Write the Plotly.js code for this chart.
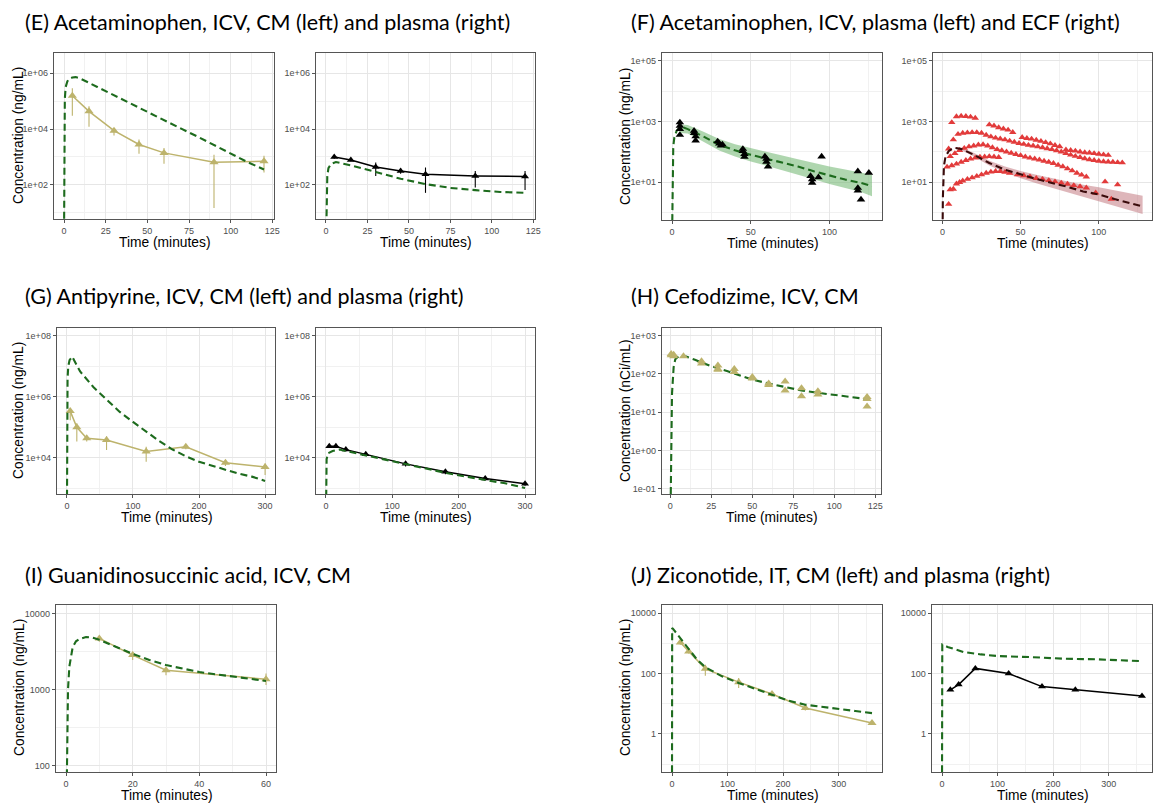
<!DOCTYPE html>
<html><head><meta charset="utf-8">
<script src="https://cdn.plot.ly/plotly-3.0.1.min.js"></script>
<style>html,body{margin:0;padding:0;background:#fff}#chart{width:1175px;height:803px}</style>
</head><body><div id="chart"></div>
<script>
// ---------- (E) Acetaminophen, ICV ----------
const tE = [5, 15, 30, 45, 60, 90, 120];
const cmE = [155000, 43000, 8700, 2800, 1400, 650, 700];
const cmEHi = [290000, 65000, 10500, 4200, 2100, 1200, 1100];
const cmELo = [30000, 12000, 5800, 1300, 575, 15, 280];
const modTE = [0, 0.2, 0.5, 1, 2, 3, 5, 7, 10, 20, 30, 40, 50, 60, 70, 80, 90, 100, 110, 120];
const modCmE = [1, 10000, 120000, 320000, 500000, 620000, 700000, 720000, 630000, 320000, 160000, 81000, 41000, 21000, 10500, 5400, 2700, 1350, 660, 355];
const plE = [1000, 780, 440, 315, 240, 210, 200];
const plEHi = [1150, 880, 630, 390, 420, 316, 316];
const plELo = [870, 700, 210, 250, 52, 80, 66];
const modTEp = [0, 0.3, 0.8, 1.5, 3, 6, 15, 30, 45, 60, 75, 90, 105, 120];
const modPlE = [0.5, 30, 200, 400, 560, 660, 500, 290, 166, 107, 78, 65, 56, 52];

// ---------- (F) Acetaminophen, ICV, plasma / ECF ----------
const tFp = [5, 5, 5, 5, 14, 14, 15, 15, 29, 30, 31, 32, 45, 45, 46, 46, 59, 60, 60, 61, 88, 89, 89, 93, 95, 118, 118, 118, 120, 125];
const plF = [930, 720, 560, 360, 490, 415, 325, 235, 220, 185, 160, 175, 125, 105, 85, 68, 70, 59, 47, 33, 16, 12.5, 9.6, 14.6, 70, 23, 6.5, 5.3, 2.7, 20.5];
const modTF = [0, 0.3, 0.8, 1.5, 3, 5, 7, 10, 20, 30, 40, 50, 60, 70, 80, 90, 100, 110, 120, 127];
const modPlF = [0.1, 30, 150, 300, 500, 620, 640, 560, 320, 170, 112, 80, 60, 45, 33, 23, 16.5, 12.3, 9.5, 7.4];
const bandTF = [5, 10, 20, 30, 40, 50, 60, 70, 80, 90, 100, 110, 120, 127];
const bandPlFHi = [794, 759, 457, 263, 178, 132, 100, 76, 57.5, 42.7, 33.1, 26.3, 21.4, 17.8];
const bandPlFLo = [417, 398, 214, 110, 71, 48, 35, 25, 18.2, 12.6, 8.7, 6.3, 4.8, 3.5];

const ecfT1 = [6, 9, 12, 15, 18, 21, 30, 33, 36, 39, 42, 45, 51, 54, 57, 60, 63, 66, 69, 72, 75, 79, 82, 85, 88, 91, 94, 97, 100, 103, 106];
const ecfV1 = [930, 1450, 1510, 1480, 1410, 1290, 780, 720, 630, 575, 525, 440, 300, 280, 265, 245, 225, 205, 185, 165, 150, 117, 112, 107, 100, 95, 93, 89, 85, 81, 78];
const ecfT2 = [4, 7, 10, 13, 16, 19, 22, 25, 28, 31, 34, 37, 40, 43, 46, 49, 52, 55, 58, 61, 64, 67, 70, 73, 76, 79, 82, 85, 88, 91, 94, 97, 100, 103, 106, 109, 112, 115];
const ecfV2 = [126, 251, 380, 417, 427, 437, 437, 417, 355, 316, 288, 269, 251, 229, 209, 191, 178, 166, 158, 148, 138, 129, 120, 110, 100, 89, 79, 72, 66, 60, 56, 52.5, 50, 48, 47, 46, 45, 44];
const ecfT3 = [5, 8, 11, 14, 17, 20, 23, 26, 29, 32, 35, 38, 41, 44, 47, 50, 53, 56, 59, 62, 65, 68, 71, 74, 77, 80, 83, 86, 89, 92];
const ecfV3 = [71, 89, 112, 132, 148, 158, 170, 174, 158, 138, 120, 110, 100, 91, 83, 76, 69, 63, 59, 55, 50, 46, 42, 37, 33, 28, 24, 20, 17.4, 15.1];
const ecfT4 = [3, 6, 9, 12, 15, 18, 21, 24, 27, 30, 33, 36];
const ecfV4 = [32, 35.5, 40, 46, 52.5, 59, 63, 68, 69, 71, 69, 66];
const ecfT5 = [4, 5, 7, 9, 11, 13, 16, 19, 22, 25, 28, 31, 34, 37, 40, 43, 48, 52, 56, 60, 64, 68, 72, 76, 80, 84, 88, 92, 98, 104, 108, 112];
const ecfV5 = [1.9, 5.75, 6, 8.9, 10, 11.2, 12.6, 14.1, 15.8, 17.8, 20, 21.9, 22.9, 22.9, 21.4, 20, 17.8, 16.6, 15.1, 13.5, 12.6, 11.5, 10.5, 9.5, 8.7, 7.9, 7.2, 6.6, 4.5, 10.5, 2.8, 8.3];
const modTEcf = [0, 0.3, 1, 2, 4, 6, 8, 12, 20, 30, 40, 50, 60, 70, 80, 90, 100, 110, 120, 128];
const modEcf = [0.05, 3, 35, 70, 105, 125, 135, 125, 81, 43, 26, 17.8, 12.9, 9.5, 7.1, 5.0, 4.0, 2.8, 2.1, 1.6];
const bandTEcf = [8, 12, 20, 30, 40, 50, 60, 70, 80, 90, 100, 110, 120, 128];
const bandEcfHi = [145, 138, 93, 51, 33, 23.4, 17.8, 13.8, 10.7, 8.3, 6.9, 5.4, 4.4, 3.6];
const bandEcfLo = [126, 115, 71, 35.5, 21.4, 13.5, 9.3, 6.6, 4.7, 3.2, 2.4, 1.66, 1.2, 0.91];

// ---------- (G) Antipyrine, ICV ----------
const tG = [5, 15, 30, 60, 120, 180, 240, 300];
const cmG = [340000, 100000, 44000, 38000, 16000, 23000, 6900, 5000];
const cmGHi = [420000, 135000, 51000, 51000, 23000, 26000, 8300, 6500];
const cmGLo = [170000, 34000, 34000, 18000, 7400, 19000, 5400, 2700];
const modTG = [0, 0.3, 1, 2, 4, 8, 20, 40, 60, 80, 100, 120, 140, 160, 180, 200, 220, 240, 260, 280, 300];
const modCmG = [100, 100000, 4000000, 10000000, 16000000, 21000000, 6800000, 2100000, 790000, 320000, 150000, 71000, 35000, 18600, 11200, 7400, 5400, 3900, 3000, 2400, 1740];
const plG = [24000, 24000, 18500, 13000, 6300, 3500, 2100, 1400];
const plGHi = [27000, 27000, 21000, 14500, 7300, 4000, 2400, 1600];
const plGLo = [21000, 21000, 16000, 11500, 5200, 2900, 1800, 1200];
const modTGp = [0, 0.3, 1, 3, 10, 20, 30, 60, 120, 180, 240, 270, 300];
const modPlG = [100, 3000, 9000, 14000, 16600, 18600, 16600, 12000, 6000, 3200, 1860, 1450, 1020];

// ---------- (H) Cefodizime, ICV, CM ----------
const tH = [0.5, 0.5, 2, 2, 8, 19, 19, 29, 29, 29, 39, 39, 50, 50, 60, 60, 70, 70, 80, 80, 90, 90, 120, 120, 120];
const cmH = [331, 309, 316, 288, 288, 214, 186, 166, 135, 129, 135, 112, 83, 76, 56, 51, 63, 37, 42, 26, 35, 29, 25, 22, 14];
const modTH = [0, 0.3, 1, 2, 3, 5, 8, 15, 25, 35, 40, 50, 60, 70, 80, 90, 100, 110, 120];
const modCmH = [0.01, 0.3, 30, 150, 240, 290, 300, 235, 158, 117, 100, 71, 56, 46, 37, 32, 28, 25, 22];

// ---------- (I) Guanidinosuccinic acid, ICV, CM ----------
const tI = [10, 20, 30, 60];
const cmI = [4700, 2840, 1800, 1370];
const cmIHi = [5000, 3150, 2000, 1630];
const cmILo = [4240, 2440, 1550, 1150];
const modTI = [0, 0.3, 0.6, 1, 1.5, 2, 3, 4, 6, 8, 10, 15, 20, 25, 30, 40, 50, 60];
const modCmI = [10, 360, 1000, 2000, 2900, 3600, 4300, 4600, 4900, 4800, 4500, 3600, 2950, 2450, 2100, 1700, 1500, 1300];

// ---------- (J) Ziconotide, IT ----------
const tJ = [15, 30, 60, 120, 180, 240, 360];
const cmJ = [1070, 540, 143, 52, 21, 7.2, 2.3];
const cmJHi = [1250, 620, 195, 71, 25, 8.5, 2.6];
const cmJLo = [900, 460, 85, 33, 17, 6, 2.0];
const modTJ = [0, 0.3, 2, 15, 30, 45, 60, 90, 120, 150, 180, 210, 240, 270, 300, 330, 360];
const modCmJ = [0.01, 3200, 3000, 1480, 620, 290, 162, 81, 49, 31, 19, 12.6, 9.3, 7.8, 6.8, 5.75, 4.9];
const plJ = [29, 43, 148, 100, 37, 29, 18];
const modTJp = [0, 0.5, 10, 40, 70, 100, 160, 220, 280, 360];
const modPlJ = [0.01, 910, 760, 510, 430, 380, 350, 310, 295, 257];

// ---------- tick labels ----------
const xTicks125 = [0, 25, 50, 75, 100, 125];
const xMinor125 = [12.5, 37.5, 62.5, 87.5, 112.5];
const xTicks100 = [0, 50, 100];
const xMinor100 = [25, 75, 125];
const xTicks300 = [0, 100, 200, 300];
const xMinor300 = [50, 150, 250, 350];
const xTicks60 = [0, 20, 40, 60];
const xMinor60 = [10, 30, 50];
const yTicksE = [1e2, 1e4, 1e6];
const yLabelsE = ['1e+02', '1e+04', '1e+06'];
const yMinorE = [1e1, 1e3, 1e5];
const yTicksF = [1e1, 1e3, 1e5];
const yLabelsF = ['1e+01', '1e+03', '1e+05'];
const yMinorF = [1, 1e2, 1e4];
const yTicksG = [1e4, 1e6, 1e8];
const yLabelsG = ['1e+04', '1e+06', '1e+08'];
const yMinorG = [1e3, 1e5, 1e7];
const yTicksH = [0.1, 1, 10, 100, 1000];
const yLabelsH = ['1e-01', '1e+00', '1e+01', '1e+02', '1e+03'];
const yMinorH = [0.316, 3.16, 31.6, 316];
const yTicksI = [100, 1000, 10000];
const yLabelsI = ['100', '1000', '10000'];
const yMinorI = [316, 3162];
const yTicksJ = [1, 100, 10000];
const yLabelsJ = ['1', '100', '10000'];
const yMinorJ = [0.1, 10, 1000];

const titles = [
  '(E) Acetaminophen, ICV, CM (left) and plasma (right)',
  '(F) Acetaminophen, ICV, plasma (left) and ECF (right)',
  '(G) Antipyrine, ICV, CM (left) and plasma (right)',
  '(H) Cefodizime, ICV, CM',
  '(I) Guanidinosuccinic acid, ICV, CM',
  '(J) Ziconotide, IT, CM (left) and plasma (right)'
];

// ---------- styling ----------
const W = 1175, H = 803;
const OLIVE = '#bdb36c', GREEN = '#1d6b1d', BLACK = '#000000', RED = '#e23b3b';
const tickFont = {family: 'Liberation Sans, Arial, sans-serif', size: 9, color: '#4d4d4d'};
const axFont = {family: 'Liberation Sans, Arial, sans-serif', size: 13.8, color: '#000'};
const titleFont = {family: 'Lato, sans-serif', size: 21.5, color: '#000'};

const layout = {
  width: W, height: H, margin: {l: 0, r: 0, t: 0, b: 0},
  paper_bgcolor: '#fff', plot_bgcolor: '#fff', showlegend: false,
  annotations: [], hovermode: false
};

function common() {
  return {
    ticks: 'outside', ticklen: 3, tickwidth: 1, tickcolor: '#555',
    showline: true, mirror: true, linecolor: '#555', linewidth: 1.3,
    showgrid: true, gridcolor: '#e6e6e6', gridwidth: 1, zeroline: false,
    tickfont: tickFont, fixedrange: true, tickmode: 'array'
  };
}
function panel(n, px, py, xr, xt, xm, yr, yt, yl, ym) {
  const xk = 'xaxis' + (n === 1 ? '' : n), yk = 'yaxis' + (n === 1 ? '' : n);
  layout[xk] = Object.assign(common(), {
    domain: [px[0] / W, px[1] / W], range: xr, anchor: 'y' + (n === 1 ? '' : n),
    tickvals: xt, ticktext: xt.map(String),
    minor: {tickmode: 'array', tickvals: xm, showgrid: true, gridcolor: '#f1f1f1', gridwidth: 1, ticks: ''}
  });
  layout[yk] = Object.assign(common(), {
    type: 'log', domain: [1 - py[1] / H, 1 - py[0] / H], range: yr, anchor: 'x' + (n === 1 ? '' : n),
    tickvals: yt, ticktext: yl,
    minor: {tickmode: 'array', tickvals: ym, showgrid: true, gridcolor: '#f1f1f1', gridwidth: 1, ticks: ''}
  });
  layout.annotations.push({
    text: 'Time (minutes)', xref: 'paper', yref: 'paper', showarrow: false,
    x: (px[0] + px[1]) / 2 / W, y: 1 - (py[1] + 23.5) / H, xanchor: 'center', yanchor: 'middle', font: axFont
  });
}
function ytitle(text, xpx, ypx) {
  layout.annotations.push({text, xref: 'paper', yref: 'paper', showarrow: false, textangle: -90,
    x: xpx / W, y: 1 - ypx / H, xanchor: 'center', yanchor: 'middle', font: axFont});
}
function ptitle(text, xpx, ypx) {
  layout.annotations.push({text, xref: 'paper', yref: 'paper', showarrow: false,
    x: xpx / W, y: 1 - ypx / H, xanchor: 'left', yanchor: 'middle', font: titleFont});
}

const traces = [];
function ax(n) { return {xaxis: 'x' + (n === 1 ? '' : n), yaxis: 'y' + (n === 1 ? '' : n)}; }
function model(n, t, v, color) {
  traces.push(Object.assign({x: t, y: v, mode: 'lines', line: {color: color || GREEN, width: 2.1, dash: '7px,4px'}}, ax(n)));
}
function band(n, t, lo, hi, fill) {
  traces.push(Object.assign({x: t, y: lo, mode: 'lines', line: {width: 0, color: fill}}, ax(n)));
  traces.push(Object.assign({x: t, y: hi, mode: 'lines', line: {width: 0, color: fill}, fill: 'tonexty', fillcolor: fill}, ax(n)));
}
function obs(n, t, v, color, withLine, hi, lo, size) {
  const tr = Object.assign({
    x: t, y: v, mode: withLine ? 'lines+markers' : 'markers',
    line: {color, width: 1.5},
    marker: {symbol: 'triangle-up', size: size || 8, color}
  }, ax(n));
  if (hi) {
    tr.error_y = {type: 'data', symmetric: false, array: hi.map((h, i) => h - v[i]),
      arrayminus: lo.map((l, i) => v[i] - l), color, thickness: 1.1, width: 0};
  }
  traces.push(tr);
}

// Panel geometry (pixel frames)
panel(1, [54, 274], [53, 219], [-6, 126], xTicks125, xMinor125, [0.78, 6.72], yTicksE, yLabelsE, yMinorE);
panel(2, [316, 535], [53, 219], [-6, 126], xTicks125, xMinor125, [0.78, 6.72], yTicksE, yLabelsE, yMinorE);
panel(3, [662, 882], [53, 220], [-6.35, 133.35], xTicks100, xMinor100, [-0.24, 5.25], yTicksF, yLabelsF, yMinorF);
panel(4, [933, 1152], [53, 220], [-6, 134], xTicks100, xMinor100, [-0.24, 5.25], yTicksF, yLabelsF, yMinorF);
panel(5, [57, 275], [328, 494], [-15, 315], xTicks300, xMinor300, [2.81, 8.26], yTicksG, yLabelsG, yMinorG);
panel(6, [316, 535], [328, 494], [-15, 315], xTicks300, xMinor300, [2.81, 8.26], yTicksG, yLabelsG, yMinorG);
panel(7, [662, 881], [328, 494], [-5.1, 128.5], xTicks125, xMinor125, [-1.14, 3.2], yTicksH, yLabelsH, yMinorH);
panel(8, [56, 276], [605, 772], [-3, 63], xTicks60, xMinor60, [1.92, 4.11], yTicksI, yLabelsI, yMinorI);
panel(9, [662, 882], [605, 772], [-18, 378], xTicks300, xMinor300, [-1.26, 4.27], yTicksJ, yLabelsJ, yMinorJ);
panel(10, [932, 1152], [605, 772], [-18, 378], xTicks300, xMinor300, [-1.26, 4.27], yTicksJ, yLabelsJ, yMinorJ);

ytitle('Concentration (ng/mL)', 18, 136);
ytitle('Concentration (ng/mL)', 625, 137);
ytitle('Concentration (ng/mL)', 18, 411);
ytitle('Concentration (nCi/mL)', 625, 411);
ytitle('Concentration (ng/mL)', 19, 688);
ytitle('Concentration (ng/mL)', 625, 688);

ptitle(titles[0], 23, 22);
ptitle(titles[1], 629, 22);
ptitle(titles[2], 23, 296);
ptitle(titles[3], 629, 296);
ptitle(titles[4], 23, 575);
ptitle(titles[5], 629, 575);

// E
obs(1, tE, cmE, OLIVE, true, cmEHi, cmELo);
model(1, modTE, modCmE);
obs(2, tE, plE, BLACK, true, plEHi, plELo, 7);
model(2, modTEp, modPlE);
// F
band(3, bandTF, bandPlFLo, bandPlFHi, 'rgba(110,180,110,0.55)');
model(3, modTF, modPlF);
obs(3, tFp, plF, BLACK, false, null, null, 7.5);
band(4, bandTEcf, bandEcfLo, bandEcfHi, 'rgba(190,110,118,0.5)');
[[ecfT1, ecfV1], [ecfT2, ecfV2], [ecfT3, ecfV3], [ecfT4, ecfV4], [ecfT5, ecfV5]].forEach(r => obs(4, r[0], r[1], RED, false, null, null, 6.5));
model(4, modTEcf, modEcf, '#3a0b0b');
// G
obs(5, tG, cmG, OLIVE, true, cmGHi, cmGLo);
model(5, modTG, modCmG);
obs(6, tG, plG, BLACK, true, plGHi, plGLo, 7);
model(6, modTGp, modPlG);
// H
model(7, modTH, modCmH);
obs(7, tH, cmH, OLIVE, false, null, null, 8);
// I
obs(8, tI, cmI, OLIVE, true, cmIHi, cmILo);
model(8, modTI, modCmI);
// J
obs(9, tJ, cmJ, OLIVE, true, cmJHi, cmJLo);
model(9, modTJ, modCmJ);
obs(10, tJ, plJ, BLACK, true, null, null, 7);
model(10, modTJp, modPlJ);

Plotly.newPlot('chart', traces, layout, {staticPlot: true, displayModeBar: false});
</script></body></html>
